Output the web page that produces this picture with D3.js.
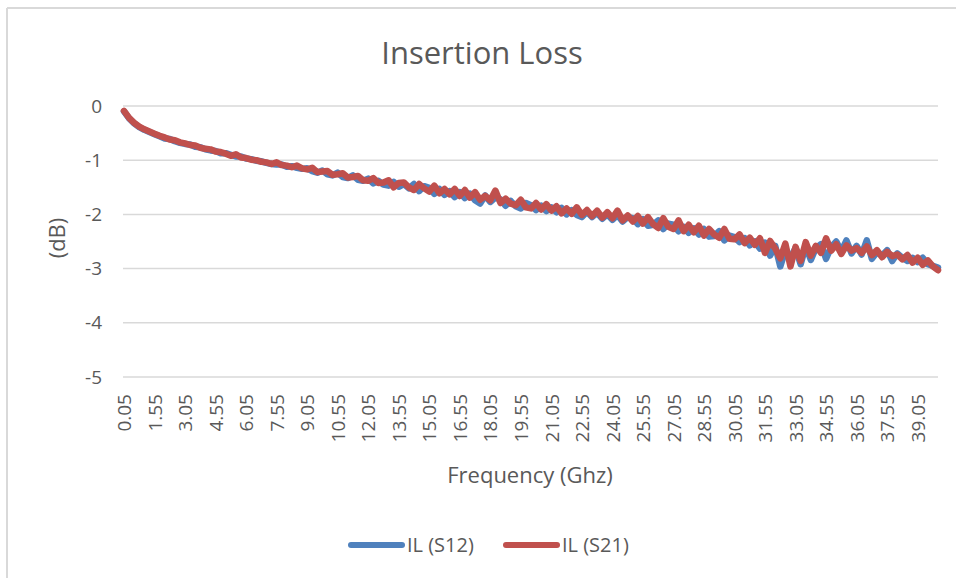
<!DOCTYPE html>
<html>
<head>
<meta charset="utf-8">
<script src="https://cdn.jsdelivr.net/npm/d3@7"></script>
<style>
  body { margin: 0; background: #fff; }
  text { font-family: "Open Sans", sans-serif; fill: #595959; }
</style>
</head>
<body>
<div id="chart"></div>
<script>
// frequency grid in GHz (every 0.25 GHz, starting at 0.05)
const freq = d3.range(161).map(i => +(0.05 + i * 0.25).toFixed(2))

const tickLabels = ["0.05","1.55","3.05","4.55","6.05","7.55","9.05","10.55","12.05","13.55",
  "15.05","16.55","18.05","19.55","21.05","22.55","24.05","25.55","27.05","28.55",
  "30.05","31.55","33.05","34.55","36.05","37.55","39.05"]

const yTicks = [0, -1, -2, -3, -4, -5]

const seriesNames = ["IL (S12)", "IL (S21)"]
const seriesColors = ["#4f81bd", "#c0504d"]

const s12 = [
  -0.10, -0.23, -0.32, -0.39, -0.44, -0.48, -0.52, -0.56, -0.60, -0.61, -0.65, -0.68,
  -0.70, -0.71, -0.75, -0.76, -0.80, -0.82, -0.83, -0.87, -0.87, -0.90, -0.93, -0.93,
  -0.97, -0.98, -1.01, -1.02, -1.05, -1.07, -1.08, -1.08, -1.12, -1.11, -1.14, -1.16,
  -1.15, -1.20, -1.23, -1.19, -1.26, -1.28, -1.23, -1.31, -1.33, -1.28, -1.36, -1.38,
  -1.34, -1.43, -1.38, -1.45, -1.47, -1.40, -1.49, -1.44, -1.52, -1.44, -1.57, -1.48,
  -1.51, -1.62, -1.53, -1.64, -1.57, -1.68, -1.59, -1.70, -1.62, -1.74, -1.80, -1.65,
  -1.77, -1.69, -1.72, -1.84, -1.75, -1.85, -1.89, -1.79, -1.83, -1.92, -1.84, -1.94,
  -1.87, -1.96, -1.88, -2.00, -1.92, -2.01, -2.05, -1.95, -2.05, -1.97, -2.08, -2.00,
  -2.10, -2.01, -2.13, -2.05, -2.07, -2.18, -2.09, -2.21, -2.19, -2.11, -2.27, -2.17,
  -2.19, -2.31, -2.23, -2.34, -2.26, -2.37, -2.27, -2.41, -2.40, -2.31, -2.48, -2.39,
  -2.42, -2.51, -2.44, -2.57, -2.50, -2.63, -2.52, -2.76, -2.58, -2.96, -2.66, -2.80,
  -2.62, -2.92, -2.58, -2.84, -2.62, -2.55, -2.82, -2.60, -2.50, -2.68, -2.48, -2.72,
  -2.58, -2.74, -2.48, -2.82, -2.70, -2.76, -2.66, -2.86, -2.72, -2.80, -2.86, -2.80,
  -2.88, -2.80, -2.92, -2.95, -2.98
]

const s21 = [
  -0.09, -0.22, -0.31, -0.38, -0.43, -0.47, -0.51, -0.55, -0.58, -0.62, -0.63, -0.67,
  -0.69, -0.72, -0.73, -0.77, -0.79, -0.80, -0.84, -0.85, -0.88, -0.92, -0.89, -0.95,
  -0.96, -0.99, -1.00, -1.03, -1.04, -1.07, -1.04, -1.09, -1.10, -1.13, -1.10, -1.15,
  -1.17, -1.14, -1.22, -1.21, -1.20, -1.27, -1.26, -1.24, -1.32, -1.31, -1.29, -1.37,
  -1.38, -1.33, -1.42, -1.41, -1.37, -1.50, -1.42, -1.41, -1.50, -1.55, -1.44, -1.52,
  -1.58, -1.47, -1.61, -1.53, -1.63, -1.53, -1.66, -1.55, -1.69, -1.59, -1.73, -1.66,
  -1.74, -1.56, -1.79, -1.71, -1.80, -1.83, -1.73, -1.87, -1.89, -1.79, -1.91, -1.81,
  -1.93, -1.85, -1.98, -1.89, -1.99, -1.87, -2.01, -1.92, -2.03, -1.93, -2.06, -1.96,
  -2.07, -1.93, -2.11, -2.02, -2.13, -2.03, -2.17, -2.05, -2.18, -2.25, -2.07, -2.23,
  -2.27, -2.11, -2.31, -2.19, -2.33, -2.21, -2.39, -2.27, -2.37, -2.43, -2.27, -2.45,
  -2.46, -2.37, -2.53, -2.43, -2.56, -2.44, -2.71, -2.49, -2.63, -2.81, -2.54, -2.96,
  -2.60, -2.86, -2.51, -2.76, -2.58, -2.71, -2.44, -2.67, -2.55, -2.73, -2.57, -2.67,
  -2.62, -2.71, -2.59, -2.75, -2.66, -2.79, -2.69, -2.77, -2.74, -2.83, -2.75, -2.89,
  -2.80, -2.93, -2.85, -2.96, -3.03
]

const width = 956, height = 578
const plot = { left: 124, right: 938, top: 106, bottom: 377 }

const svg = d3.select("#chart").append("svg")
  .attr("width", width)
  .attr("height", height)

// chart area frame (top and left edges visible)
svg.append("line").attr("x1", 7).attr("x2", width).attr("y1", 8).attr("y2", 8)
  .attr("stroke", "#d9d9d9").attr("stroke-width", 2)
svg.append("line").attr("x1", 7).attr("x2", 7).attr("y1", 8).attr("y2", height)
  .attr("stroke", "#d9d9d9").attr("stroke-width", 2)

const x = d3.scaleLinear().domain([0.05, 40.05]).range([plot.left, plot.right])
const y = d3.scaleLinear().domain([-5, 0]).range([plot.bottom, plot.top])

// gridlines
svg.append("g")
  .selectAll("line")
  .data(yTicks)
  .enter()
  .append("line")
  .attr("x1", plot.left - 1)
  .attr("x2", plot.right)
  .attr("y1", d => y(d))
  .attr("y2", d => y(d))
  .attr("stroke", "#d9d9d9")
  .attr("stroke-width", 1.5)

// y axis labels (plain hyphen minus like Excel)
const yAxis = svg.append("g")
  .attr("transform", `translate(${plot.left - 22},0)`)
  .call(d3.axisLeft(y).tickValues(yTicks).tickSize(0).tickPadding(0).tickFormat(d => String(d)))
yAxis.select(".domain").remove()
yAxis.selectAll("text")
  .style("font-size", "19px")
  .attr("fill", "#595959")

// x axis labels, rotated
const xAxis = svg.append("g")
  .attr("transform", `translate(0,${plot.bottom + 17})`)
  .call(d3.axisBottom(x).tickValues(tickLabels.map(Number)).tickSize(0).tickFormat((d, i) => tickLabels[i]))
xAxis.select(".domain").remove()
xAxis.selectAll("text")
  .style("font-size", "19px")
  .attr("fill", "#595959")
  .attr("text-anchor", "end")
  .attr("dy", "0.35em")
  .attr("y", 0)
  .attr("transform", "rotate(-90)")

// series lines
const line = d3.line()
  .x((d, i) => x(freq[i]))
  .y(d => y(d))

svg.append("g")
  .selectAll("path")
  .data([s12, s21])
  .enter()
  .append("path")
  .attr("d", line)
  .attr("fill", "none")
  .attr("stroke", (d, i) => seriesColors[i])
  .attr("stroke-width", 6.5)
  .attr("stroke-linejoin", "round")
  .attr("stroke-linecap", "round")

// title and axis titles
svg.append("text")
  .attr("x", 482).attr("y", 64)
  .attr("text-anchor", "middle")
  .style("font-size", "31px")
  .text("Insertion Loss")

svg.append("text")
  .attr("x", 530).attr("y", 483)
  .attr("text-anchor", "middle")
  .style("font-size", "22px")
  .text("Frequency (Ghz)")

svg.append("text")
  .attr("transform", "translate(57,238) rotate(-90)")
  .attr("text-anchor", "middle")
  .attr("dy", "0.35em")
  .style("font-size", "22px")
  .text("(dB)")

// legend
const legendX = [348, 503]
const legend = svg.append("g")
  .selectAll("g")
  .data(seriesNames)
  .enter()
  .append("g")
  .attr("transform", (d, i) => `translate(${legendX[i]},545)`)

legend.append("line")
  .attr("x1", 3).attr("x2", 54)
  .attr("stroke", (d, i) => seriesColors[i])
  .attr("stroke-width", 6)
  .attr("stroke-linecap", "round")

legend.append("text")
  .attr("x", 59).attr("dy", "0.35em")
  .style("font-size", "20px")
  .text(d => d)
</script>
</body>
</html>
